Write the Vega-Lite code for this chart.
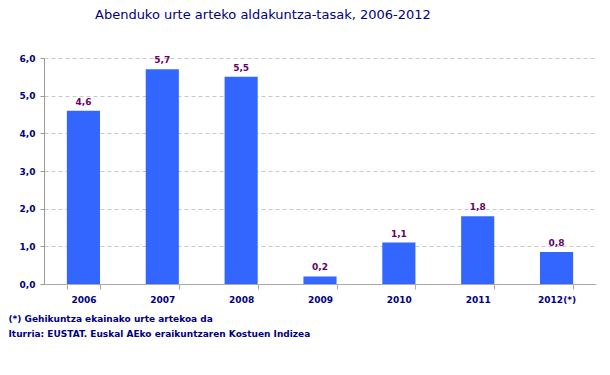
{
  "$schema": "https://vega.github.io/schema/vega-lite/v6.json",
  "autosize": "none",
  "width": 552,
  "height": 226,
  "padding": {"left": 44, "top": 58, "right": 14, "bottom": 91},
  "background": "white",
  "config": {
    "locale": {"number": {"decimal": ",", "thousands": ".", "grouping": [3], "currency": ["", " €"]}},
    "view": {"stroke": null},
    "font": "DejaVu Sans"
  },
  "title": {
    "text": "Abenduko urte arteko aldakuntza-tasak, 2006-2012",
    "anchor": "start",
    "frame": "group",
    "dx": 51,
    "offset": 32,
    "font": "DejaVu Sans",
    "fontSize": 13,
    "fontWeight": "normal",
    "color": "#000080"
  },
  "data": {
    "values": [
      {"urtea": "2006", "tasa": 4.6},
      {"urtea": "2007", "tasa": 5.7},
      {"urtea": "2008", "tasa": 5.5},
      {"urtea": "2009", "tasa": 0.2},
      {"urtea": "2010", "tasa": 1.1},
      {"urtea": "2011", "tasa": 1.8},
      {"urtea": "2012(*)", "tasa": 0.85}
    ]
  },
  "encoding": {
    "x": {
      "field": "urtea",
      "type": "nominal",
      "sort": null,
      "scale": {"paddingInner": 0.58, "paddingOuter": 0.29},
      "axis": {
        "title": ["(*)  Gehikuntza ekainako urte artekoa da", "Iturria: EUSTAT. Euskal AEko eraikuntzaren Kostuen Indizea"],
        "titleX": -36,
        "titleY": 34,
        "titleAlign": "left",
        "titleBaseline": "middle",
        "titleLineHeight": 15,
        "titleFont": "DejaVu Sans",
        "titleFontSize": 9,
        "titleFontWeight": "bold",
        "titleColor": "#000080",
        "labelAngle": 0,
        "labelFont": "DejaVu Sans",
        "labelFontSize": 9,
        "labelFontWeight": "bold",
        "labelColor": "#000080",
        "labelPadding": 6,
        "domainColor": "#aaaaaa",
        "tickColor": "#aaaaaa",
        "tickSize": 5,
        "tickBand": "extent",
        "grid": false
      }
    },
    "y": {
      "field": "tasa",
      "type": "quantitative",
      "scale": {"domain": [0, 6], "nice": false},
      "axis": {
        "title": null,
        "values": [0, 1, 2, 3, 4, 5, 6],
        "labelOverlap": false,
        "format": ".1f",
        "labelFont": "DejaVu Sans",
        "labelFontSize": 9,
        "labelFontWeight": "bold",
        "labelColor": "#000080",
        "labelPadding": 5,
        "domainColor": "#999999",
        "tickColor": "#999999",
        "tickSize": 4,
        "gridColor": "#c8c8c8",
        "gridDash": [4, 3]
      }
    }
  },
  "layer": [
    {"mark": {"type": "bar", "color": "#3366FF"}},
    {
      "mark": {"type": "text", "dy": -9, "font": "DejaVu Sans", "fontSize": 9, "fontWeight": "bold", "color": "#660066"},
      "encoding": {"text": {"field": "tasa", "type": "quantitative", "format": ".1f"}}
    }
  ]
}
